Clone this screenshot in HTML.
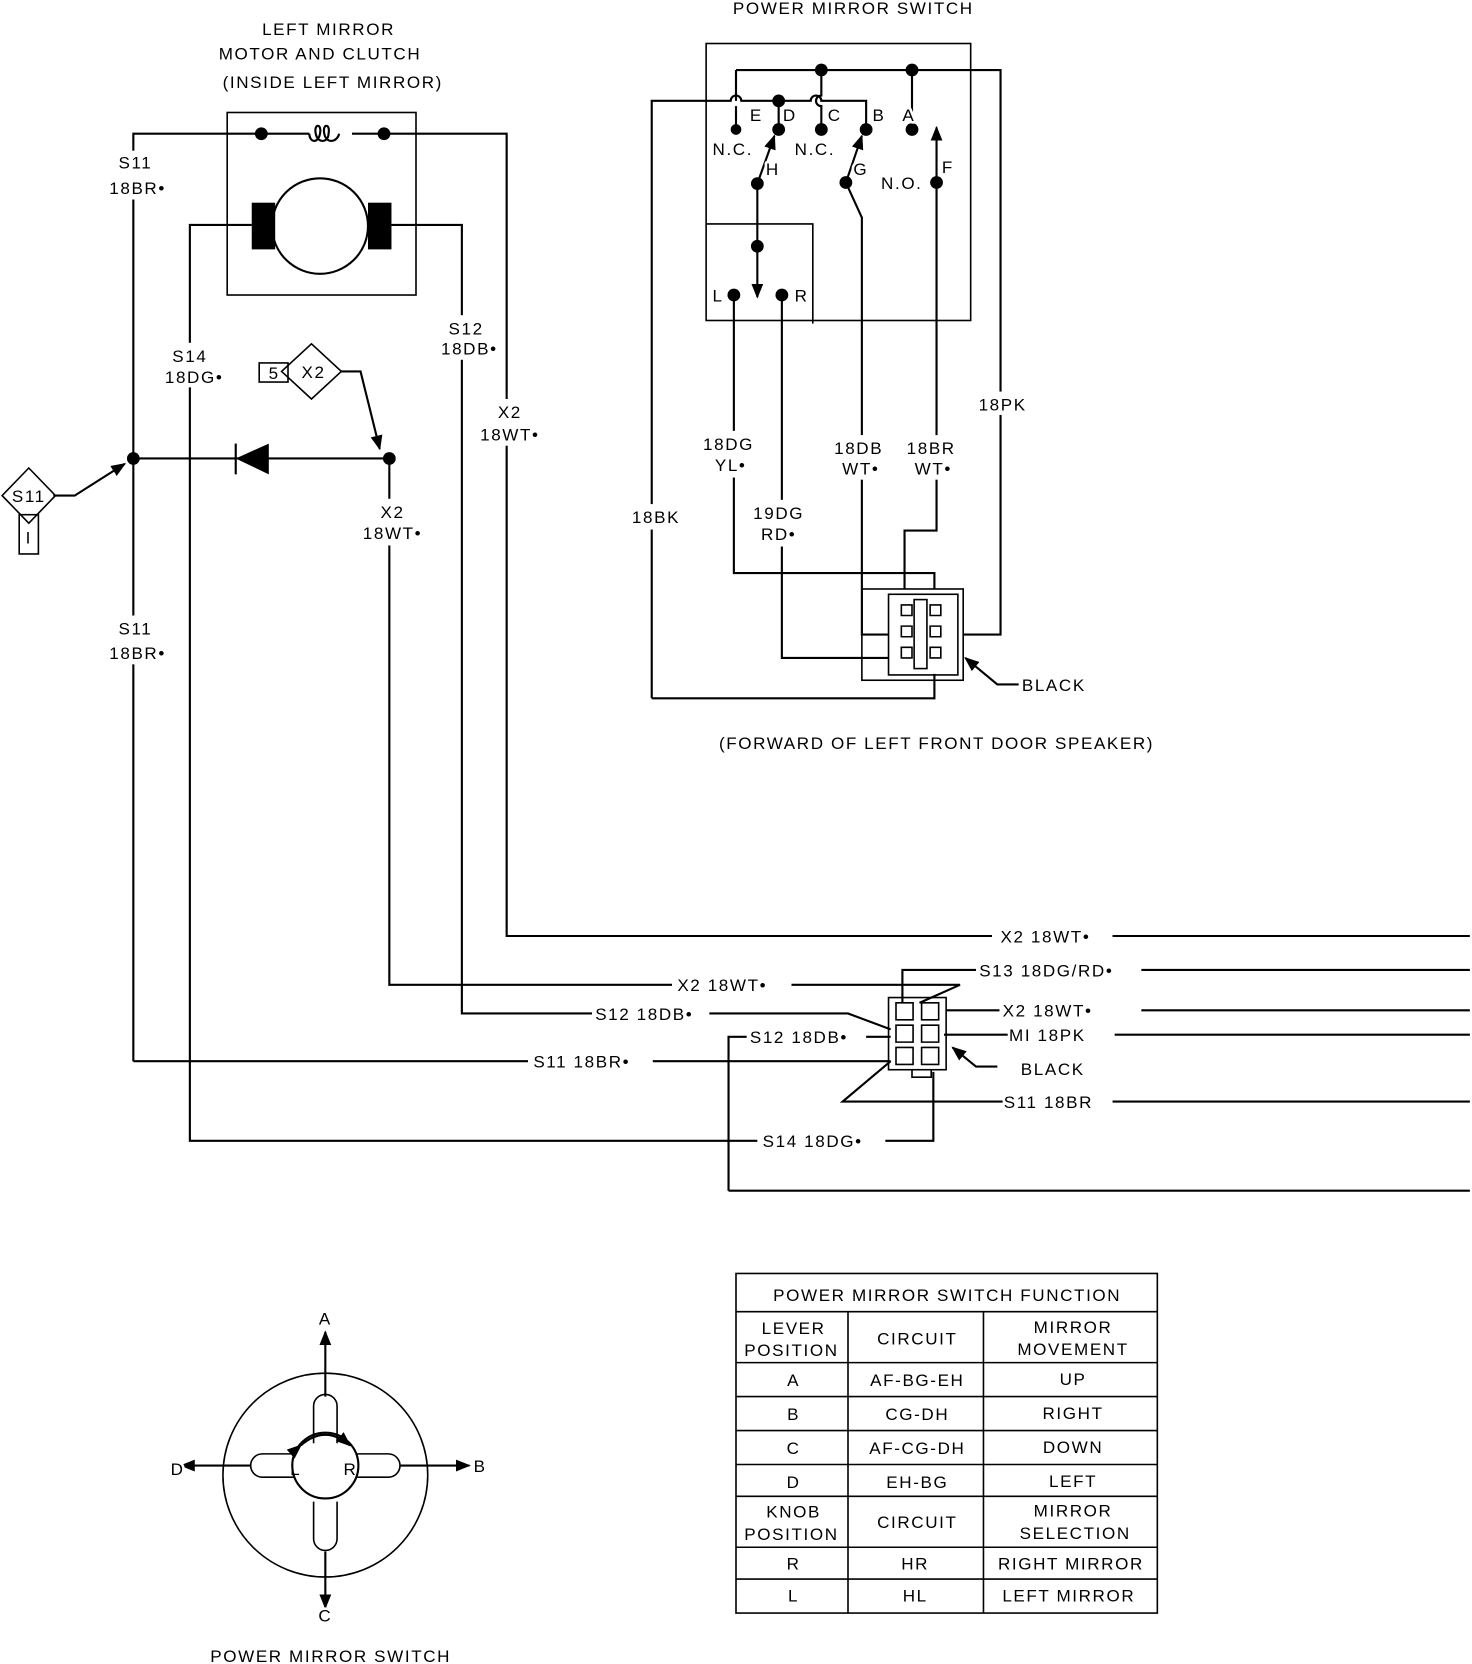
<!DOCTYPE html>
<html><head><meta charset="utf-8"><style>
html,body{margin:0;padding:0;background:#fff}
svg{display:block}
text{font-family:"Liberation Sans",sans-serif;font-size:16px;fill:#000;letter-spacing:1.5px;paint-order:stroke;stroke:#fff;stroke-width:5px;stroke-linejoin:round}
</style></head><body>
<svg width="1472" height="1664" viewBox="0 0 1380 1568" preserveAspectRatio="none" xmlns="http://www.w3.org/2000/svg">
<defs>
<marker id="ar" viewBox="0 0 10 10" refX="9" refY="5" markerWidth="7" markerHeight="7" orient="auto"><path d="M0,1 L10,5 L0,9 z" fill="#000"/></marker>
</defs>
<g fill="none" stroke="#000" stroke-width="2">
<rect x="213" y="106" width="177" height="172" stroke-width="1.5"/>
<path d="M125,1000 V126 H290 M330,126 H475 V882 H930 M1043,882 H1378"/>
<path d="M290,126 c0,8 8,10 10,0 c2,-10 -6,-10 -4,0 c2,10 12,8 12,0 c2,-10 -6,-10 -4,0 c2,10 12,8 14,0"/>
<circle cx="300" cy="213" r="45"/>
<path d="M236,212 H178 V1075 H710 M830,1075 H875 V1010"/>
<path d="M367,212 H433 V955 H555 M665,955 H795 L835,970"/>
<path d="M125,432 H365 V928 H630 M742,928 H900 L862,945"/>
<path d="M221,418 V447"/>
<path d="M320,350 H338 L356,423" marker-end="url(#ar)"/>
<path d="M50,467 H70 L117,437" marker-end="url(#ar)"/>
<path d="M292,324 L320,350 L292,376 L264,350 Z" stroke-width="1.5"/>
<rect x="243" y="342" width="27" height="18" stroke-width="1.5"/>
<path d="M27,441 L52,467 L27,493 L2,467 Z" stroke-width="1.5"/>
<rect x="18" y="485" width="18" height="37" stroke-width="1.5"/>
<rect x="662" y="41" width="248" height="261" stroke-width="1.5"/>
<path d="M662,211 H762 V305" stroke-width="1.5"/>
<path d="M690,66 H938 V598 H903"/>
<path d="M690,66 V95 M690,100 V122"/>
<path d="M611,658 V95 H685 a5,5 0 0 1 10,0 H760 a5,5 0 0 1 10,0 H812 V122"/>
<path d="M770,66 V90 a5,5 0 0 0 0,10 V122"/>
<path d="M730,95 V122 M855,66 V122"/>
<path d="M710,173 L726,128" marker-end="url(#ar)"/>
<path d="M793,172 L808,128" marker-end="url(#ar)"/>
<path d="M878,172 V120" marker-end="url(#ar)"/>
<path d="M793,172 L808,205 V598 H833"/>
<path d="M878,172 V500 H848 V555"/>
<path d="M710,173 V280" marker-end="url(#ar)"/>
<path d="M688,278 V540 H876 V555 M733,278 V620 H833"/>
<path d="M611,658 H876 V635"/>
<rect x="808" y="555" width="95" height="86" stroke-width="1.5"/>
<rect x="833" y="560" width="65" height="76" stroke-width="1.5"/>
<rect x="857" y="565" width="12" height="65" stroke-width="1.5"/>
<path d="M845,570 h10 v10 h-10z M845,590 h10 v10 h-10z M845,610 h10 v10 h-10z M872,570 h10 v10 h-10z M872,590 h10 v10 h-10z M872,610 h10 v10 h-10z" stroke-width="1.5"/>
<path d="M955,645 H935 L905,620" marker-end="url(#ar)"/>
<rect x="833" y="940" width="54" height="68" stroke-width="1.5"/>
<path d="M855,1008 V1015 H873 V1008" stroke-width="1.5"/>
<path d="M840,945 h16 v16 h-16z M864,945 h16 v16 h-16z M840,966 h16 v16 h-16z M864,966 h16 v16 h-16z M840,987 h16 v16 h-16z M864,987 h16 v16 h-16z" stroke-width="1.5"/>
<path d="M846,945 V914 H915 M1070,914 H1378"/>
<path d="M887,952 H937 M1070,952 H1378"/>
<path d="M885,975 H945 M1045,975 H1378"/>
<path d="M125,1000 H495 M612,1000 H835"/>
<path d="M683,1122 V977 H700 M812,977 H835"/>
<path d="M835,1000 L790,1038 H940 M1043,1038 H1378"/>
<path d="M683,1122 H1378"/>
<path d="M935,1005 H915 L893,987" marker-end="url(#ar)"/>
<circle cx="305" cy="1390" r="96" stroke-width="1.5"/>
<path d="M294,1360 V1325 a11,11 0 0 1 22,0 V1360 M294,1415 V1450 a11,11 0 0 0 22,0 V1415 M275,1370 H246 a11,11 0 0 0 0,22 H275 M335,1370 H364 a11,11 0 0 1 0,22 H335" stroke-width="1.5"/>
<circle cx="305" cy="1381" r="31"/>
<path d="M282,1362 Q305,1342 328,1362" marker-start="url(#ar)" marker-end="url(#ar)"/>
<path d="M305,1316 V1255" marker-end="url(#ar)"/>
<path d="M305,1462 V1515" marker-end="url(#ar)"/>
<path d="M235,1381 H170" marker-end="url(#ar)"/>
<path d="M375,1381 H440" marker-end="url(#ar)"/>
<rect x="690" y="1200" width="395" height="320" stroke-width="1.5"/>
<path d="M690,1236 H1085 M690,1284 H1085 M690,1316 H1085 M690,1348 H1085 M690,1380 H1085 M690,1410 H1085 M690,1458 H1085 M690,1488 H1085 M795,1236 V1520 M922,1236 V1520" stroke-width="1.5"/>
</g>
<g fill="#fff">
<rect x="100" y="142" width="60" height="46"/>
<rect x="100" y="580" width="60" height="46"/>
<rect x="150" y="323" width="65" height="42"/>
<rect x="410" y="297" width="58" height="42"/>
<rect x="450" y="376" width="60" height="44"/>
<rect x="338" y="470" width="62" height="44"/>
<rect x="590" y="475" width="50" height="24"/>
<rect x="658" y="406" width="52" height="44"/>
<rect x="705" y="471" width="52" height="44"/>
<rect x="780" y="410" width="52" height="42"/>
<rect x="848" y="410" width="52" height="42"/>
<rect x="915" y="369" width="50" height="22"/>
</g>
<g fill="#000">
<rect x="236" y="191" width="22" height="44"/><rect x="345" y="191" width="22" height="44"/>
<circle cx="245" cy="126" r="6"/><circle cx="360" cy="126" r="6"/>
<circle cx="125" cy="432" r="6"/><circle cx="365" cy="432" r="6"/>
<path d="M221,432 L252,418 L252,447 Z"/>
<circle cx="690" cy="122" r="5"/><circle cx="730" cy="122" r="6"/><circle cx="770" cy="122" r="6"/><circle cx="812" cy="122" r="6"/><circle cx="855" cy="122" r="6"/>
<circle cx="770" cy="66" r="6"/><circle cx="855" cy="66" r="6"/><circle cx="730" cy="95" r="6"/>
<circle cx="710" cy="173" r="6"/><circle cx="793" cy="172" r="6"/><circle cx="878" cy="172" r="6"/>
<circle cx="710" cy="232" r="6"/><circle cx="688" cy="278" r="6"/><circle cx="733" cy="278" r="6"/>
</g>
<g text-anchor="middle">
<text x="308" y="33">LEFT MIRROR</text>
<text x="300" y="56">MOTOR AND CLUTCH</text>
<text x="312" y="83">(INSIDE LEFT MIRROR)</text>
<text x="800" y="13">POWER MIRROR SWITCH</text>
<text x="127" y="159">S11</text><text x="129" y="183">18BR•</text>
<text x="178" y="341">S14</text><text x="182" y="361">18DG•</text>
<text x="437" y="315">S12</text><text x="440" y="334">18DB•</text>
<text x="478" y="394">X2</text><text x="478" y="415">18WT•</text>
<text x="368" y="488">X2</text><text x="368" y="508">18WT•</text>
<text x="127" y="598">S11</text><text x="129" y="621">18BR•</text>
<text x="257" y="357" font-size="14" style="stroke:none">5</text><text x="294" y="356" font-size="13" style="stroke:none">X2</text>
<text x="27" y="473" font-size="14" style="stroke:none">S11</text><text x="27" y="512" font-size="12" style="stroke:none">I</text>
<text x="615" y="493">18BK</text>
<text x="683" y="424">18DG</text><text x="685" y="444">YL•</text>
<text x="730" y="489">19DG</text><text x="730" y="509">RD•</text>
<text x="805" y="428">18DB</text><text x="807" y="447">WT•</text>
<text x="873" y="428">18BR</text><text x="875" y="447">WT•</text>
<text x="940" y="387">18PK</text>
<text x="878" y="706">(FORWARD OF LEFT FRONT DOOR SPEAKER)</text>
<text x="310" y="1566">POWER MIRROR SWITCH</text>
<text x="305" y="1248" font-size="14">A</text><text x="305" y="1528" font-size="14">C</text>
<text x="888" y="1226">POWER MIRROR SWITCH FUNCTION</text>
<text x="744" y="1257">LEVER</text><text x="742" y="1278">POSITION</text>
<text x="860" y="1267">CIRCUIT</text>
<text x="1006" y="1256">MIRROR</text><text x="1006" y="1277">MOVEMENT</text>
<text x="744" y="1306">A</text><text x="860" y="1306">AF-BG-EH</text><text x="1006" y="1305">UP</text>
<text x="744" y="1338">B</text><text x="860" y="1338">CG-DH</text><text x="1006" y="1337">RIGHT</text>
<text x="744" y="1370">C</text><text x="860" y="1370">AF-CG-DH</text><text x="1006" y="1369">DOWN</text>
<text x="744" y="1402">D</text><text x="860" y="1402">EH-BG</text><text x="1006" y="1401">LEFT</text>
<text x="744" y="1430">KNOB</text><text x="742" y="1451">POSITION</text>
<text x="860" y="1440">CIRCUIT</text>
<text x="1006" y="1429">MIRROR</text><text x="1008" y="1450">SELECTION</text>
<text x="744" y="1479">R</text><text x="858" y="1479">HR</text><text x="1004" y="1479">RIGHT MIRROR</text>
<text x="744" y="1509">L</text><text x="858" y="1509">HL</text><text x="1002" y="1509">LEFT MIRROR</text>
</g>
<g>
<text x="703" y="114">E</text><text x="734" y="114">D</text><text x="776" y="114">C</text><text x="818" y="114">B</text><text x="846" y="114">A</text>
<text x="668" y="146">N.C.</text><text x="745" y="146">N.C.</text><text x="826" y="178">N.O.</text>
<text x="718" y="165">H</text><text x="800" y="165">G</text><text x="883" y="163">F</text>
<text x="668" y="284">L</text><text x="745" y="284">R</text>
<text x="958" y="651">BLACK</text>
<text x="938" y="888">X2 18WT•</text>
<text x="918" y="920">S13 18DG/RD•</text>
<text x="635" y="934">X2 18WT•</text>
<text x="940" y="958">X2 18WT•</text>
<text x="558" y="961">S12 18DB•</text>
<text x="703" y="983">S12 18DB•</text>
<text x="946" y="981">MI 18PK</text>
<text x="500" y="1006">S11 18BR•</text>
<text x="957" y="1013">BLACK</text>
<text x="941" y="1044">S11 18BR</text>
<text x="715" y="1081">S14 18DG•</text>
<text x="272" y="1390" font-size="14" style="stroke:none">L</text><text x="322" y="1390" font-size="14" style="stroke:none">R</text>
<text x="160" y="1390" font-size="14">D</text><text x="444" y="1387" font-size="14">B</text>
</g>
</svg>
</body></html>
